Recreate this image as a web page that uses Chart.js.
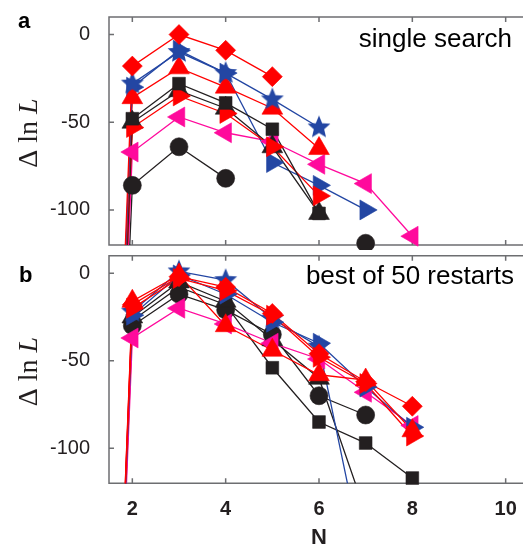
<!DOCTYPE html>
<html>
<head>
<meta charset="utf-8">
<script src="https://cdn.jsdelivr.net/npm/chart.js@4.4.0/dist/chart.umd.min.js"></script>
<style>
html, body { margin: 0; padding: 0; background: #fff; overflow: hidden; width: 523px; height: 548px; }
#wrap { position: relative; width: 523px; height: 548px; overflow: hidden; }
canvas { position: absolute; left: 0; }
#cA { top: 0; }
#cB { top: 250px; }
</style>
</head>
<body>
<div id="wrap">
  <canvas id="cA" width="530" height="250"></canvas>
  <canvas id="cB" width="530" height="298"></canvas>
</div>
<script>
// number of states N, tick labels
const N = [1, 2, 3, 4, 5, 6, 7, 8];
const xTicks = [2, 4, 6, 8, 10];
const yTicks = [0, -50, -100];

// panel a: single search (Δ ln L per N, null = no value)
const singleRedDiamond = [-700, -18, 0, -9, -24, null, null, null];
const singleBlueStar = [-700, -28, -10, -22, -37, -53, null, null];
const singleRedUp = [-700, -36, -19, -30, -42, -65, null, null];
const singleBlackSquare = [-700, -48, -28, -39, -54, -102, null, null];
const singleBlackUp = [-700, -50, -32, -42, -64, -102, null, null];
const singleRedRight = [-700, -53, -35, -45, -64, -92, null, null];
const singleMagentaLeft = [-700, -67, -47, -56, -61, -74, -85, -115];
const singleBlackCircle = [-700, -86, -64, -82, null, null, -119, null];
const singleBlueRight = [-700, -30, -9, -22, -73, -86, -100, null];

// panel b: best of 50 restarts
const bestRedDiamond = [-700, -18, -2, -8, -23, -46, -62, -76];
const bestBlueStar = [-700, -22, 1, -4, -26, -42, -170, null];
const bestRedUp = [-700, -16, -1, -30, -44, -58, -61, -90];
const bestBlackSquare = [-700, -27, -8, -18, -54, -85, -97, -117];
const bestBlackUp = [-700, -25, -5, -16, -38, -60, -137, null];
const bestRedRight = [-700, -20, -3, -10, -24, -48, -63, -93];
const bestMagentaLeft = [-700, -37, -20, -29, -40, -49, -68, -87];
const bestBlackCircle = [-700, -30, -12, -21, -35, -70, -81, null];
const bestBlueRight = [-700, -24, -1, -12, -28, -40, -65, -88];

const RED = '#ff0000';
const BLUE = '#2346a3';
const BLACK = '#231f20';
const MAGENTA = '#ff0a9c';
const FRAME = '#6d6e71';

function starImage(color, r) {
    const c = document.createElement('canvas');
    const s = Math.ceil(r * 2 + 2);
    c.width = s;
    c.height = s;
    const g = c.getContext('2d');
    g.fillStyle = color;
    g.beginPath();
    for (let k = 0; k < 10; k++) {
        const rad = k % 2 === 0 ? r : r * 0.45;
        const ang = -Math.PI / 2 + k * Math.PI / 5;
        g.lineTo(s / 2 + rad * Math.cos(ang), s / 2 + rad * Math.sin(ang));
    }
    g.closePath();
    g.fill();
    return c;
}

const blueStar = starImage(BLUE, 12);

// marker look for each series
const looks = {
    redDiamond: { color: RED, style: 'rectRot', radius: 10, rotation: 0 },
    blueStar: { color: BLUE, style: blueStar, radius: 12, rotation: 0 },
    redUp: { color: RED, style: 'triangle', radius: 12, rotation: 0 },
    blackSquare: { color: BLACK, style: 'rect', radius: 9, rotation: 0 },
    blackUp: { color: BLACK, style: 'triangle', radius: 12, rotation: 0 },
    redRight: { color: RED, style: 'triangle', radius: 11.5, rotation: 90 },
    magentaLeft: { color: MAGENTA, style: 'triangle', radius: 11.5, rotation: -90 },
    blackCircle: { color: BLACK, style: 'circle', radius: 9, rotation: 0 },
    blueRight: { color: BLUE, style: 'triangle', radius: 11.5, rotation: 90 }
};

const panelA = [
    ['redDiamond', singleRedDiamond], ['blueStar', singleBlueStar], ['redUp', singleRedUp],
    ['blackSquare', singleBlackSquare], ['redRight', singleRedRight], ['blackUp', singleBlackUp],
    ['blueRight', singleBlueRight], ['magentaLeft', singleMagentaLeft], ['blackCircle', singleBlackCircle]
];
const panelB = [
    ['redDiamond', bestRedDiamond], ['redRight', bestRedRight], ['redUp', bestRedUp],
    ['blueStar', bestBlueStar], ['blueRight', bestBlueRight], ['magentaLeft', bestMagentaLeft],
    ['blackUp', bestBlackUp], ['blackCircle', bestBlackCircle], ['blackSquare', bestBlackSquare]
];

function buildDatasets(panel) {
    const out = [];
    panel.forEach(([key, values]) => {
        const lk = looks[key];
        const pts = N.map((n, i) => ({ x: n, y: values[i] }));
        // line part, clipped to the frame
        out.push({
            data: pts,
            showLine: true,
            borderColor: lk.color,
            borderWidth: 1.3,
            pointRadius: 0,
            pointHoverRadius: 0,
            spanGaps: false,
            clip: 0,
            order: 2
        });
        // markers, allowed over the frame
        out.push({
            data: pts,
            showLine: false,
            pointStyle: lk.style,
            pointRadius: lk.radius,
            pointRotation: lk.rotation,
            pointBackgroundColor: lk.color,
            pointBorderColor: lk.color,
            pointBorderWidth: 0.6,
            clip: false,
            order: 1
        });
    });
    return out;
}

const framePlugin = {
    id: 'frame',
    beforeDatasetsDraw(chart) {
        const { ctx, chartArea: a, scales: { x, y } } = chart;
        ctx.save();
        ctx.strokeStyle = FRAME;
        ctx.lineWidth = 1.5;
        ctx.beginPath();
        ctx.moveTo(a.right + 5, a.top);
        ctx.lineTo(a.left, a.top);
        ctx.lineTo(a.left, a.bottom);
        ctx.lineTo(a.right + 5, a.bottom);
        xTicks.forEach(v => {
            const px = x.getPixelForValue(v);
            ctx.moveTo(px, a.top);
            ctx.lineTo(px, a.top + 5);
            ctx.moveTo(px, a.bottom);
            ctx.lineTo(px, a.bottom - 5);
        });
        yTicks.forEach(v => {
            const py = y.getPixelForValue(v);
            ctx.moveTo(a.left, py);
            ctx.lineTo(a.left + 5, py);
        });
        ctx.stroke();
        ctx.restore();
    },
    afterDraw(chart, args, opts) {
        const { ctx, chartArea: a } = chart;
        ctx.save();
        ctx.fillStyle = '#000';
        // panel letter
        ctx.font = 'bold 22px "Liberation Sans", Arial, sans-serif';
        ctx.textAlign = 'left';
        ctx.textBaseline = 'alphabetic';
        ctx.fillText(opts.letter, opts.letterX, opts.letterY);
        // note in the corner
        ctx.font = '26px "Liberation Sans", Arial, sans-serif';
        ctx.textAlign = 'right';
        ctx.fillText(opts.note, opts.noteX, opts.noteY);
        // y title: Δ ln L, with italic L
        const cy = (a.top + a.bottom) / 2 + 2;
        ctx.translate(37, cy);
        ctx.rotate(-Math.PI / 2);
        ctx.fillStyle = BLACK;
        const upright = '28px "Liberation Serif", "Times New Roman", serif';
        const italic = 'italic 28px "Liberation Serif", "Times New Roman", serif';
        ctx.font = upright;
        const w1 = ctx.measureText('Δ ln ').width;
        ctx.font = italic;
        const w2 = ctx.measureText('L').width;
        const x0 = -(w1 + w2) / 2;
        ctx.textAlign = 'left';
        ctx.font = upright;
        ctx.fillText('Δ ln ', x0, 0);
        ctx.font = italic;
        ctx.fillText('L', x0 + w1, 0);
        ctx.restore();
    }
};

function yScale() {
    return {
        min: -120,
        max: 10,
        afterBuildTicks: s => { s.ticks = yTicks.map(v => ({ value: v })); },
        afterFit: s => { s.width = 109; s.paddingTop = 0; s.paddingBottom = 0; },
        grid: { display: false, drawTicks: false },
        border: { display: false },
        ticks: {
            padding: 19,
            color: BLACK,
            font: { family: '"Liberation Sans", Arial, sans-serif', size: 20 }
        }
    };
}

Chart.defaults.animation = false;

new Chart(document.getElementById('cA'), {
    type: 'line',
    data: { datasets: buildDatasets(panelA) },
    options: {
        responsive: false,
        animation: false,
        layout: { autoPadding: false, padding: { top: 17, bottom: 5, left: 0, right: 1 } },
        plugins: {
            legend: { display: false },
            tooltip: { enabled: false },
            frame: { letter: 'a', letterX: 18, letterY: 28, note: 'single search', noteX: 512, noteY: 47 }
        },
        scales: {
            x: {
                type: 'linear',
                min: 1.5,
                max: 10.5,
                afterFit: s => { s.height = 0; s.paddingLeft = 0; s.paddingRight = 0; },
                grid: { display: false, drawTicks: false },
                border: { display: false },
                ticks: { display: false }
            },
            y: yScale()
        }
    },
    plugins: [framePlugin]
});

new Chart(document.getElementById('cB'), {
    type: 'line',
    data: { datasets: buildDatasets(panelB) },
    options: {
        responsive: false,
        animation: false,
        layout: { autoPadding: false, padding: { top: 5.7, bottom: 0, left: 0, right: 1 } },
        plugins: {
            legend: { display: false },
            tooltip: { enabled: false },
            frame: { letter: 'b', letterX: 19, letterY: 32, note: 'best of 50 restarts', noteX: 514, noteY: 34 }
        },
        scales: {
            x: {
                type: 'linear',
                min: 1.5,
                max: 10.5,
                afterBuildTicks: s => { s.ticks = xTicks.map(v => ({ value: v })); },
                afterFit: s => { s.height = 64.7; s.paddingLeft = 0; s.paddingRight = 0; },
                grid: { display: false, drawTicks: false },
                border: { display: false },
                ticks: {
                    padding: 14,
                    color: BLACK,
                    maxRotation: 0,
                    font: { family: '"Liberation Sans", Arial, sans-serif', size: 20, weight: 'bold' }
                },
                title: {
                    display: true,
                    text: 'N',
                    color: BLACK,
                    padding: 0,
                    font: { family: '"Liberation Sans", Arial, sans-serif', size: 22, weight: 'bold', lineHeight: 0.9 }
                }
            },
            y: yScale()
        }
    },
    plugins: [framePlugin]
});
</script>
</body>
</html>
